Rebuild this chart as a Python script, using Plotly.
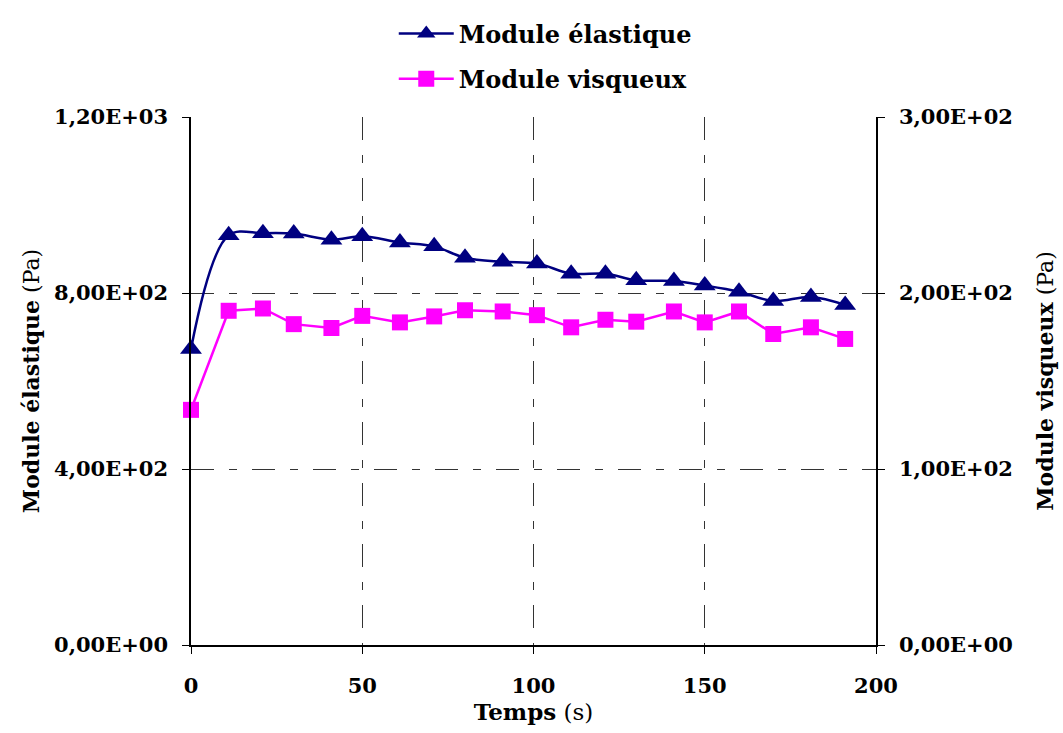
import plotly.graph_objects as go

# Time (s) and moduli (Pa)
temps = [0, 11, 21, 30, 41, 50, 61, 71, 80, 91, 101, 111, 121, 130, 141, 150, 160, 170, 181, 191]
module_elastique = [673, 931, 936, 935, 921, 929, 915, 906, 880, 871, 867, 844, 844, 829, 827, 817, 803, 782, 791, 773]
module_visqueux = [133.6, 189.9, 191.2, 182.3, 180.1, 187.0, 183.3, 186.7, 190.2, 189.5, 187.4, 180.5,
                   184.8, 183.7, 189.5, 183.3, 189.5, 176.7, 180.5, 173.9]

left_ticks = [0, 400, 800, 1200]
left_labels = ["0,00E+00", "4,00E+02", "8,00E+02", "1,20E+03"]
right_ticks = [0, 100, 200, 300]
right_labels = ["0,00E+00", "1,00E+02", "2,00E+02", "3,00E+02"]
x_ticks = [0, 50, 100, 150, 200]

FONT = "DejaVu Serif"
NAVY = "#000080"
MAGENTA = "#FF00FF"

fig = go.Figure()
fig.add_trace(go.Scatter(
    x=temps, y=module_elastique, name="<b>Module élastique</b>",
    mode="lines+markers", legendgroup="a",
    line=dict(color=NAVY, width=2.5, shape="spline", smoothing=1.0),
    marker=dict(symbol="triangle-up", size=19, color=NAVY),
    yaxis="y", cliponaxis=False,
))
fig.add_trace(go.Scatter(
    x=temps, y=module_visqueux, name="<b>Module visqueux</b>",
    mode="lines+markers", legendgroup="b",
    line=dict(color=MAGENTA, width=2.5),
    marker=dict(symbol="square", size=16, color=MAGENTA),
    yaxis="y2", cliponaxis=False,
))

grid_style = dict(gridcolor="#333333", gridwidth=1, griddash="23px,15px,8px,15px")
axis_common = dict(
    showline=True, linecolor="black", linewidth=1.5,
    ticks="outside", ticklen=7, tickcolor="black",
    tickfont=dict(family=FONT, size=21),
    zeroline=False, automargin=False,
)

fig.update_layout(
    template="none",
    width=1063, height=733,
    margin=dict(l=191, r=187, t=113, b=88),
    paper_bgcolor="white", plot_bgcolor="white",
    font=dict(family=FONT, color="black"),
    showlegend=True,
    legend=dict(
        x=0.296, y=1.2, xanchor="left", yanchor="top",
        orientation="v", tracegroupgap=11, itemwidth=55,
        font=dict(family=FONT, size=24, color="black"),
        bgcolor="rgba(0,0,0,0)",
    ),
    xaxis=dict(
        range=[0, 200], tickvals=x_ticks, ticktext=[f"<b>{v}</b>" for v in x_ticks],
        showgrid=True, **grid_style, **axis_common,
        ticklabelstandoff=14,
        title=dict(text="<b>Temps</b> (s)", font=dict(family=FONT, size=23), standoff=0),
    ),
    yaxis=dict(
        range=[0, 1200], tickvals=left_ticks, ticktext=[f"<b>{t}</b>" for t in left_labels],
        showgrid=True, **grid_style, **axis_common,
        ticklabelstandoff=10,
        title=dict(text="<b>Module élastique</b> (Pa)", font=dict(family=FONT, size=22), standoff=8),
    ),
    yaxis2=dict(
        range=[0, 300], tickvals=right_ticks, ticktext=[f"<b>{t}</b>" for t in right_labels],
        overlaying="y", side="right",
        showgrid=False, **axis_common,
        ticklabelstandoff=10,
        title=dict(text="<b>Module visqueux</b> (Pa)", font=dict(family=FONT, size=22), standoff=26),
    ),
)

fig.write_html("out.html")
